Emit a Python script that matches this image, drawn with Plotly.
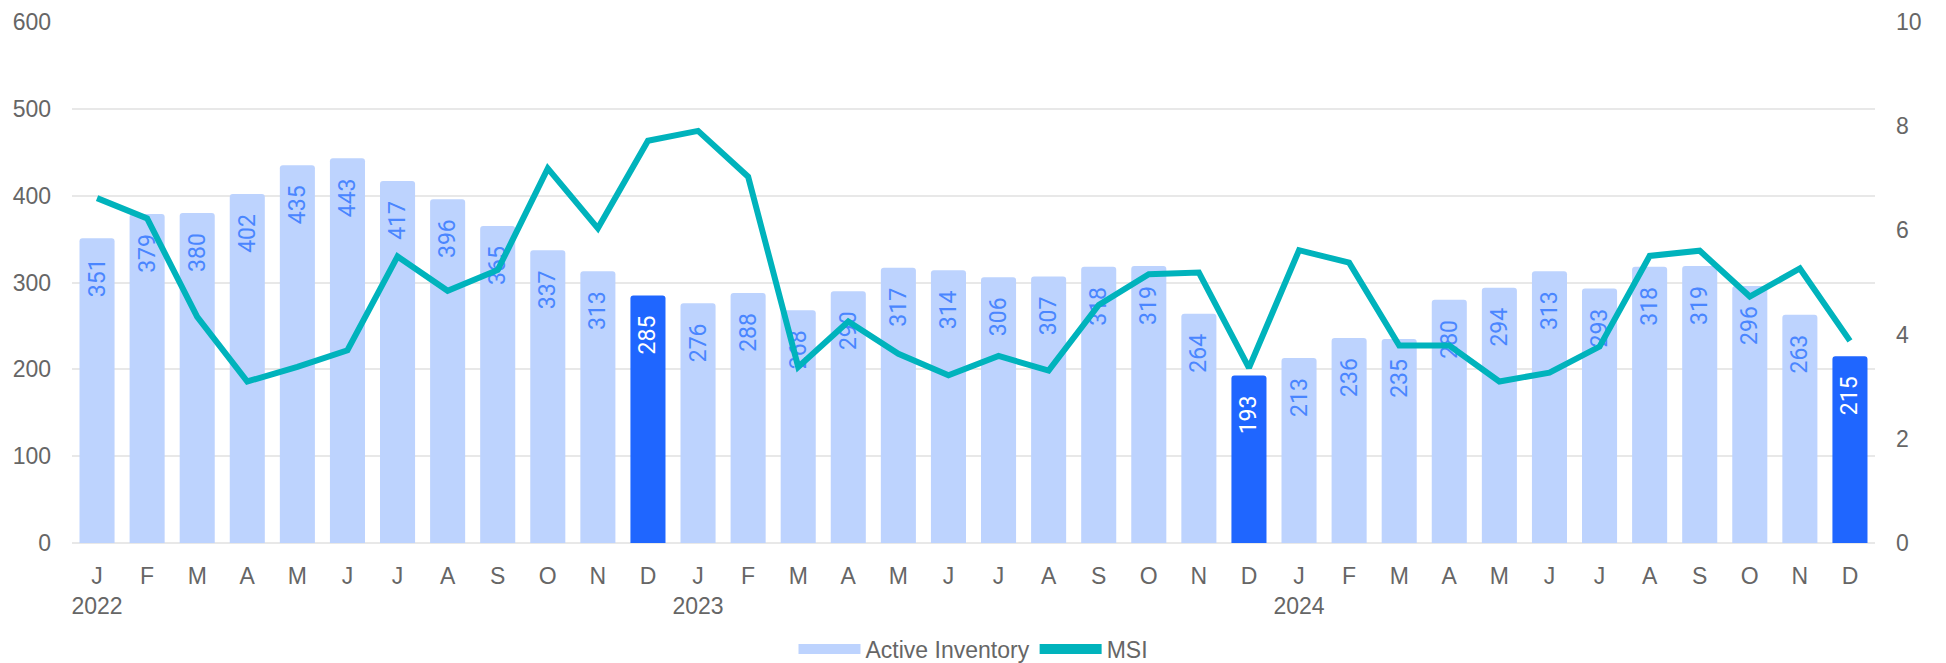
import plotly.graph_objects as go

months = ["J", "F", "M", "A", "M", "J", "J", "A", "S", "O", "N", "D"]
years = ["2022", "2023", "2024"]

active_inventory = [
    351, 379, 380, 402, 435, 443, 417, 396, 365, 337, 313, 285,
    276, 288, 268, 290, 317, 314, 306, 307, 318, 319, 264, 193,
    213, 236, 235, 280, 294, 313, 293, 318, 319, 296, 263, 215,
]
msi = [
    6.62, 6.23, 4.34, 3.10, 3.38, 3.70, 5.50, 4.84, 5.24, 7.19, 6.04, 7.72,
    7.91, 7.03, 3.38, 4.25, 3.63, 3.22, 3.59, 3.31, 4.57, 5.16, 5.19, 3.36,
    5.62, 5.38, 3.79, 3.79, 3.10, 3.27, 3.77, 5.51, 5.61, 4.73, 5.27, 3.88,
]

categories = [f"{y}-{i+1:02d}" for y in years for i in range(12)]
tick_text = [m + ("<br>" + y if i == 0 else "") for y in years for i, m in enumerate(months)]

LIGHT = "#bdd3fe"
DARK = "#1f66ff"
TEAL = "#00b3bc"
LABEL_BLUE = "#4a86ff"
GRAY = "#666666"
GRID = "#e8e8e8"

is_dec = [c.endswith("-12") for c in categories]
bar_colors = [DARK if d else LIGHT for d in is_dec]
text_colors = ["#ffffff" if d else LABEL_BLUE for d in is_dec]
pad = "\u00a0\u00a0\u00a0"

fig = go.Figure()
fig.add_trace(go.Bar(
    x=categories, y=active_inventory, name="Active Inventory",
    marker=dict(color=bar_colors, cornerradius=3, line=dict(width=0)),
    text=[f"{v}{pad}" for v in active_inventory],
    textposition="inside", insidetextanchor="end", textangle=-90,
    textfont=dict(family="Liberation Sans Narrow, Roboto, sans-serif", size=23, color=text_colors),
    constraintext="none", showlegend=False, hoverinfo="skip",
))
fig.add_trace(go.Scatter(
    x=categories, y=msi, name="MSI", mode="lines", yaxis="y2",
    line=dict(color=TEAL, width=6), hoverinfo="skip", showlegend=False,
))
# legend-only entries
fig.add_trace(go.Scatter(
    x=[None], y=[None], mode="lines", name="Active Inventory",
    line=dict(color=LIGHT, width=10), hoverinfo="skip",
))
fig.add_trace(go.Scatter(
    x=[None], y=[None], mode="lines", name="MSI",
    line=dict(color=TEAL, width=10), hoverinfo="skip",
))

fig.update_layout(
    width=1946, height=663,
    margin=dict(l=72, r=71, t=22, b=120, autoexpand=False),
    paper_bgcolor="white", plot_bgcolor="white",
    font=dict(family="Liberation Sans, Arial, sans-serif", size=23, color=GRAY),
    bargap=0.3,
    xaxis=dict(
        type="category", tickmode="array", tickvals=categories, ticktext=tick_text,
        showgrid=False, zeroline=False, showline=False, ticks="",
        tickfont=dict(size=23, color=GRAY), tickangle=0, ticklabelstandoff=17,
        automargin=False,
    ),
    yaxis=dict(
        range=[0, 600], dtick=100, showgrid=True, gridcolor=GRID, gridwidth=2,
        zeroline=True, zerolinecolor=GRID, zerolinewidth=2, showline=False,
        tickfont=dict(size=23, color=GRAY), ticklabelstandoff=20, automargin=False,
    ),
    yaxis2=dict(
        range=[0, 10], dtick=2, overlaying="y", side="right", showgrid=False,
        zeroline=False, showline=False, tickfont=dict(size=23, color=GRAY),
        ticklabelstandoff=20, automargin=False,
    ),
    legend=dict(
        orientation="h", x=0.5, xanchor="center", y=-0.2035, yanchor="middle",
        font=dict(size=23, color=GRAY), itemwidth=62, traceorder="normal",
    ),
)

fig.write_html(
    "out.html",
    config={"displayModeBar": False},
    post_script="document.body.style.margin='0';document.body.style.overflow='hidden';",
)
